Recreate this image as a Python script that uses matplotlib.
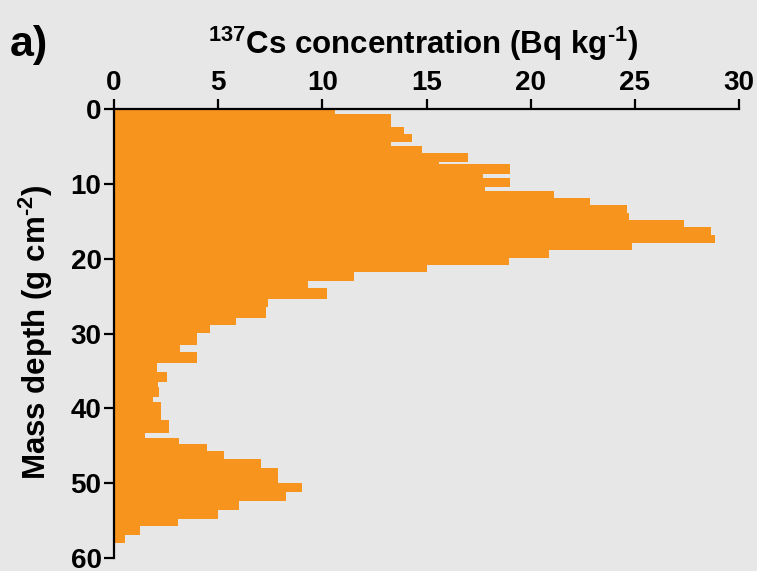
import numpy as np
import matplotlib.pyplot as plt

# layer tops (g cm-2) and 137Cs activity (Bq/kg) for each layer
depth_top = [0.0, 0.76, 2.4, 3.3, 4.4, 5.0, 5.9, 7.05, 7.4, 8.67,
             9.3, 10.4, 10.95, 11.87, 12.89, 13.9, 14.8, 15.8, 16.85, 17.85,
             18.85, 19.85, 20.9, 21.8, 23.0, 23.9, 25.4, 26.5, 27.87, 28.8,
             29.96, 31.5, 32.5, 33.9, 35.1, 36.45, 37.1, 38.45, 39.2, 41.55,
             43.25, 43.9, 44.8, 45.7, 46.7, 47.9, 50.0, 51.1, 52.4, 53.6,
             54.7, 55.7, 56.9]
depth_bottom_last = 58.0
cs137 = [10.6, 13.3, 13.9, 14.3, 13.3, 14.8, 17.0, 15.6, 19.0, 17.7,
         19.0, 17.8, 21.1, 22.85, 24.6, 24.7, 27.35, 28.65, 28.85, 24.85,
         20.9, 18.95, 15.0, 11.5, 9.3, 10.2, 7.4, 7.3, 5.85, 4.6,
         4.0, 3.15, 4.0, 2.05, 2.55, 2.1, 2.15, 1.85, 2.25, 2.65,
         1.5, 3.1, 4.45, 5.3, 7.05, 7.85, 9.0, 8.25, 6.0, 5.0,
         3.05, 1.25, 0.55]

edges = np.append(depth_top, depth_bottom_last)

bg = '#e7e7e8'
orange = '#f7941e'

plt.rcParams['font.family'] = ['Liberation Sans', 'DejaVu Sans']
plt.rcParams['font.weight'] = 'bold'
plt.rcParams['mathtext.fontset'] = 'custom'
plt.rcParams['mathtext.rm'] = 'Liberation Sans:bold'
plt.rcParams['mathtext.it'] = 'Liberation Sans:bold'
plt.rcParams['mathtext.bf'] = 'Liberation Sans:bold'
plt.rcParams['mathtext.default'] = 'rm'

fig = plt.figure(figsize=(7.57, 5.71), dpi=100, facecolor=bg)
ax = fig.add_axes([114 / 757, 1 - 558.3 / 571, 625 / 757, 449.5 / 571])
ax.set_facecolor(bg)

# one filled step outline so the layers don't show seams
ax.stairs(cs137, edges, orientation='horizontal', baseline=0, fill=True,
          color=orange, linewidth=0)

ax.set_xlim(0, 30)
ax.set_ylim(60, 0)
ax.set_xticks(np.arange(0, 31, 5))
ax.set_yticks(np.arange(0, 61, 10))
ax.xaxis.tick_top()
ax.tick_params(axis='both', length=7, width=1.6, color='black',
               labelsize=20, pad=2)
for lab in ax.get_xticklabels() + ax.get_yticklabels():
    lab.set_fontweight('bold')

ax.spines['right'].set_visible(False)
ax.spines['bottom'].set_visible(False)
for s in ['top', 'left']:
    ax.spines[s].set_linewidth(1.6)
    ax.spines[s].set_color('black')

fig.text(423 / 757, 1 - 44 / 571,
         r'$^{137}$Cs concentration (Bq kg$^{\text{-1}}$)',
         ha='center', va='center', fontsize=22.5, fontweight='bold')
fig.text(36 / 757, 1 - 332 / 571, r'Mass depth (g cm$^{\text{-2}}$)',
         rotation=90, ha='center', va='center', fontsize=22.5,
         fontweight='bold')
fig.text(10 / 757, 1 - 45 / 571, 'a)', ha='left', va='center',
         fontsize=31, fontweight='bold')

fig.savefig('out.png', dpi=100, facecolor=bg)
